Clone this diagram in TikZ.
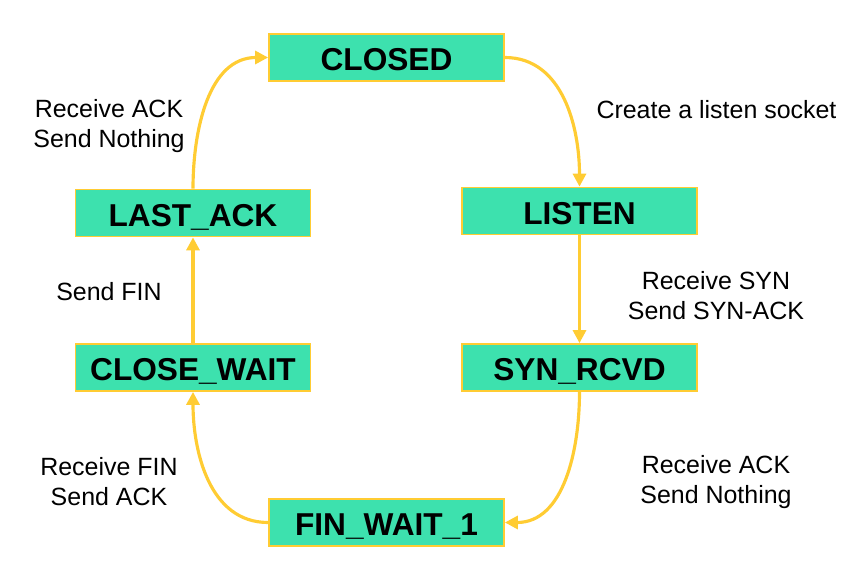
\documentclass[tikz,border=0pt]{standalone}
\usepackage{fontspec}
\setmainfont{Liberation Sans}
\usetikzlibrary{arrows.meta,positioning}
\usepackage{xcolor}
\definecolor{boxaqua}{RGB}{61,225,174}
\definecolor{lineyellow}{RGB}{255,204,51}

\begin{document}
\begin{tikzpicture}[
    stbox/.style={rectangle,draw=lineyellow,line width=1pt,fill=boxaqua,minimum width=4.7cm,
                  minimum height=0.94cm,text height=15pt,text depth=0pt,
                  font=\fontsize{18}{21}\selectfont\bfseries,align=center},
    lbl/.style={font=\fontsize{14.2}{17}\selectfont,align=center},
    arrow/.style={-{Triangle[length=2.6mm,width=2.6mm]},line width=1.8pt,draw=lineyellow}
]
    \useasboundingbox (0,0) rectangle (17.28,-11.4);
    \node[stbox] (closed) at (7.73,-1.15) {CLOSED};
    \node[stbox] (listen) at (11.59,-4.22) {LISTEN};
    \node[stbox] (synrcvd) at (11.59,-7.35) {SYN\_RCVD};
    \node[stbox] (finwait) at (7.73,-10.45) {FIN\_WAIT\_1};
    \node[stbox] (closewait) at (3.86,-7.35) {CLOSE\_WAIT};
    \node[stbox] (lastack) at (3.86,-4.26) {LAST\_ACK};
    \draw[arrow] (closed.east) to[out=0,in=90] (listen.north);
    \draw[arrow] (listen)--(synrcvd);
    \draw[arrow] (synrcvd.south) to[out=-90,in=0] (finwait.east);
    \draw[arrow] (finwait.west) to[out=180,in=-90] (closewait.south);
    \draw[arrow] (closewait)--(lastack);
    \draw[arrow] (lastack.north) to[out=90,in=180] (closed.west);
    % transition labels
    \node[lbl] (l1) at (14.33,-2.2) {Create a listen socket};
    \node[lbl] (l2) at (14.32,-5.92) {Receive SYN\\Send SYN-ACK};
    \node[lbl] (l3) at (14.32,-9.64) {Receive ACK\\Send Nothing};
    \node[lbl] (l4) at (2.18,-9.64) {Receive FIN\\Send ACK};
    \node[lbl] (l5) at (2.18,-5.84) {Send FIN};
    \node[lbl] (l6) at (2.18,-2.52) {Receive ACK\\Send Nothing};
\end{tikzpicture}
\end{document}
